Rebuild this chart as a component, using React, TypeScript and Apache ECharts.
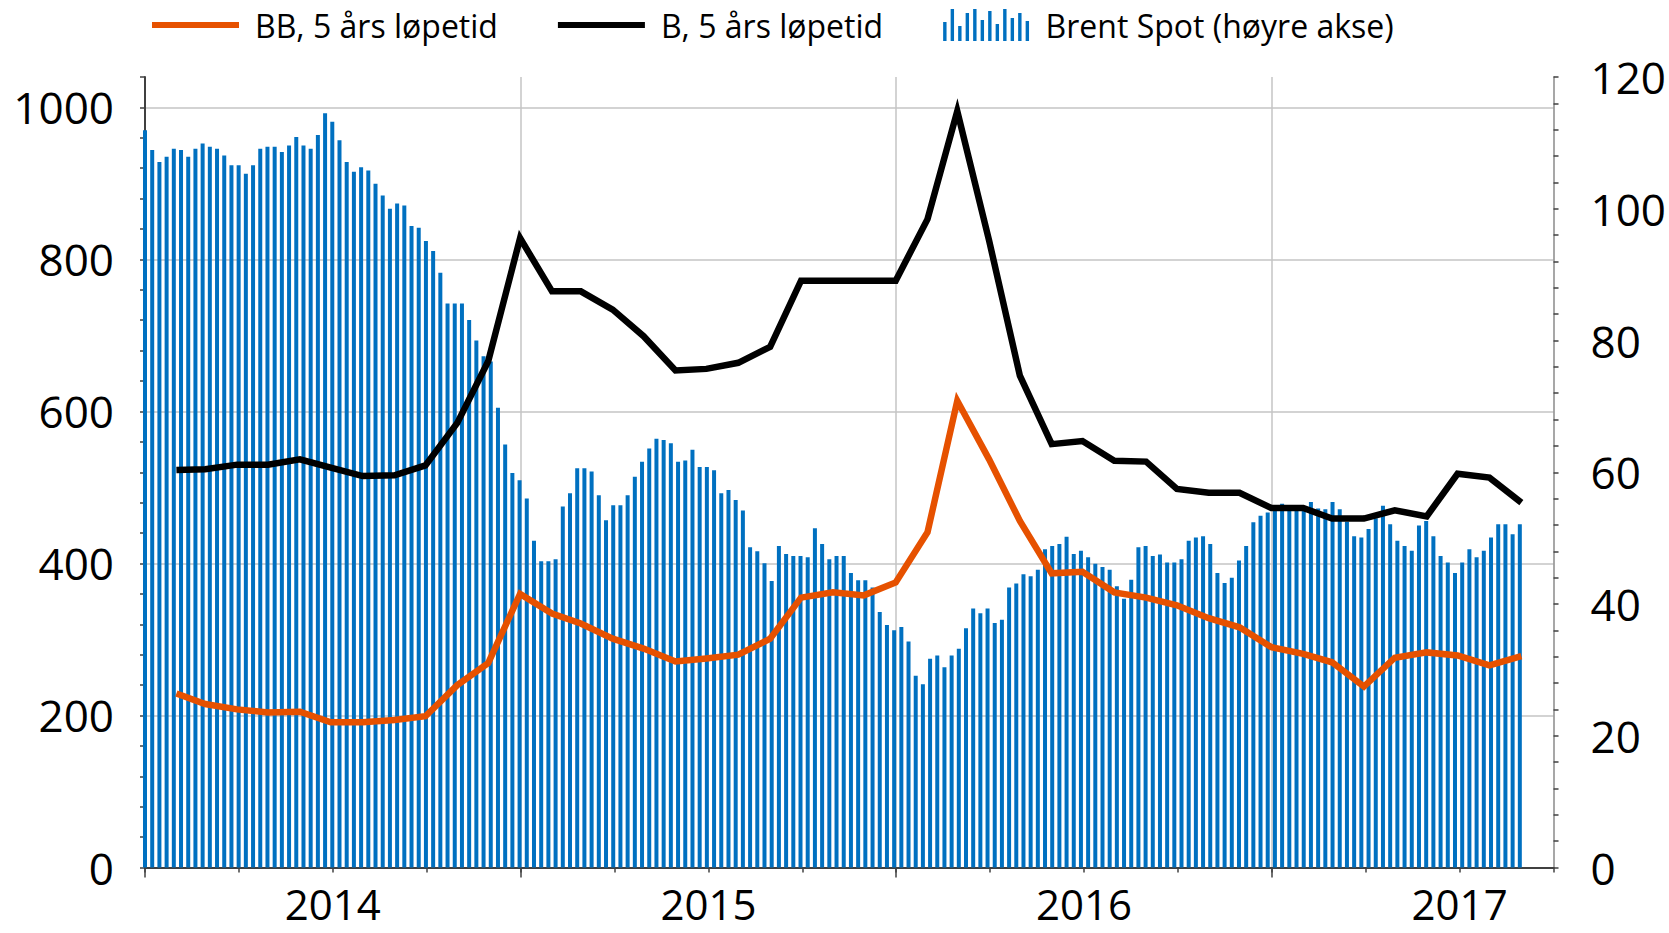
import React, { useEffect, useRef } from "react";
import * as echarts from "echarts";

// Weekly Brent spot (USD per barrel, right axis), first observation in week starting:
const brentStartDate = "2014-01-01";
const brentWeekly = [
  111.9, 108.9, 107.1, 107.9, 109.1, 108.9, 107.9, 109.1, 109.9, 109.4,
  109.1, 108.1, 106.6, 106.6, 105.3, 106.6, 109.1, 109.4, 109.4, 108.6,
  109.6, 110.9, 109.6, 109.1, 111.2, 114.5, 113.2, 110.4, 107.1, 105.6,
  106.3, 105.8, 103.8, 102.0, 100.0, 100.8, 100.5, 97.4, 97.1, 95.1,
  93.6, 90.3, 85.6, 85.6, 85.6, 83.1, 80.0, 77.6, 76.8, 69.8,
  64.2, 59.9, 58.8, 56.0, 49.6, 46.5, 46.5, 46.8, 54.8, 56.8,
  60.6, 60.6, 60.1, 56.5, 52.7, 55.0, 55.0, 56.5, 59.3, 61.6,
  63.6, 65.1, 64.9, 64.4, 61.6, 61.8, 63.4, 60.8, 60.8, 60.3,
  56.8, 57.3, 55.8, 54.2, 48.6, 48.0, 46.2, 43.5, 48.8, 47.6,
  47.3, 47.3, 47.1, 51.5, 49.1, 46.8, 47.3, 47.3, 44.7, 43.6,
  43.6, 42.5, 38.8, 36.8, 36.0, 36.5, 34.3, 29.1, 27.8, 31.7,
  32.2, 30.4, 32.2, 33.2, 36.3, 39.3, 38.6, 39.3, 37.1, 37.6,
  42.5, 43.1, 44.5, 44.2, 45.2, 48.3, 48.8, 49.1, 50.2, 47.6,
  48.1, 47.1, 46.1, 45.6, 45.2, 42.7, 40.8, 43.7, 48.6, 48.8,
  47.3, 47.5, 46.3, 46.3, 46.8, 49.6, 50.1, 50.3, 49.1, 44.7,
  43.2, 44.0, 46.6, 48.8, 52.4, 53.4, 53.9, 54.5, 55.2, 54.7,
  54.7, 54.6, 55.5, 54.5, 54.4, 55.5, 54.4, 52.5, 50.3, 50.1,
  51.4, 53.0, 54.9, 52.1, 49.6, 48.8, 48.1, 51.9, 52.6, 50.3,
  47.3, 46.3, 44.7, 46.3, 48.3, 47.1, 48.1, 50.1, 52.1, 52.1,
  50.6, 52.1,
];

// Monthly spreads (basis points, left axis), end of month
const spreadMonths = [
  "2014-01", "2014-02", "2014-03", "2014-04", "2014-05", "2014-06", "2014-07", "2014-08", "2014-09", "2014-10", "2014-11", "2014-12",
  "2015-01", "2015-02", "2015-03", "2015-04", "2015-05", "2015-06", "2015-07", "2015-08", "2015-09", "2015-10", "2015-11", "2015-12",
  "2016-01", "2016-02", "2016-03", "2016-04", "2016-05", "2016-06", "2016-07", "2016-08", "2016-09", "2016-10", "2016-11", "2016-12",
  "2017-01", "2017-02", "2017-03", "2017-04", "2017-05", "2017-06", "2017-07", "2017-08",
];
const bbSpread = [
  229, 215, 208, 204, 205, 191, 191, 194, 199, 240, 269, 360,
  334, 321, 301, 288, 271, 275, 280, 301, 355, 362, 358, 375,
  441, 614, 537, 456, 387, 389, 362, 355, 345, 328, 316, 290,
  281, 270, 238, 276, 283, 279, 266, 278,
];
const bSpread = [
  523, 524, 530, 530, 537, 526, 515, 516, 529, 585, 666, 828,
  758, 758, 734, 699, 654, 656, 664, 685, 772, 772, 772, 772,
  853, 995, 825, 647, 557, 561, 535, 534, 498, 493, 493, 473,
  473, 459, 459, 470, 462, 518, 513, 480,
];

const seriesNames = ["BB, 5 års løpetid", "B, 5 års løpetid", "Brent Spot (høyre akse)"];
const yearTicks = [2014, 2015, 2016, 2017];

const FONT = "Open Sans";

function yearFrac(t: number): number {
  const d = new Date(t);
  const y = d.getUTCFullYear();
  const s = Date.UTC(y, 0, 1);
  const e = Date.UTC(y + 1, 0, 1);
  return y + (t - s) / (e - s);
}

function monthEnd(label: string): number {
  const [y, m] = label.split("-").map(Number);
  return yearFrac(Date.UTC(y, m, 1) - 12 * 3600 * 1000);
}

export default function App() {
  const ref = useRef<HTMLDivElement>(null);

  useEffect(() => {
    if (!ref.current) return;
    const chart = echarts.init(ref.current, undefined, { renderer: "svg" });
    const [sy, sm, sd] = brentStartDate.split("-").map(Number);
    const start = Date.UTC(sy, sm - 1, sd);
    const week = 7 * 24 * 3600 * 1000;
    const barData = brentWeekly.map((v, i) => [yearFrac(start + i * week), v]);
    const bbData = spreadMonths.map((m, i) => [monthEnd(m), bbSpread[i]]);
    const bData = spreadMonths.map((m, i) => [monthEnd(m), bSpread[i]]);

    const barIcon =
      "path://M0 13h3.4v19h-3.4z M7.5 0h3.4v32h-3.4z M15 17h3.4v15h-3.4z M22.5 4h3.4v28h-3.4z M30 0h3.4v32h-3.4z M37.5 11h3.4v21h-3.4z M45 2h3.4v30h-3.4z M52.5 15h3.4v17h-3.4z M60 0h3.4v32h-3.4z M67.5 9h3.4v23h-3.4z M75 4h3.4v28h-3.4z M82.5 12h3.4v20h-3.4z";
    const lineIcon = "path://M0 0h87v6h-87z";

    const gridColor = "#c4c4c4";
    const axisColor = "#404040";
    const labelSize = 44;

    chart.setOption({
      animation: false,
      textStyle: { fontFamily: FONT },
      legend: {
        left: 152,
        top: 9,
        padding: 0,
        itemWidth: 87,
        itemHeight: 32,
        itemGap: 60,
        textStyle: { fontSize: 32, color: "#000", fontFamily: FONT, padding: [0, 0, 0, 11] },
        data: [
          { name: seriesNames[0], icon: lineIcon },
          { name: seriesNames[1], icon: lineIcon },
          { name: seriesNames[2], icon: barIcon },
        ],
      },
      grid: { left: 145, right: 115, top: 77, bottom: 65.5, containLabel: false },
      xAxis: [
        {
          type: "value",
          min: 2014,
          max: 2017.75,
          interval: 0.25,
          position: "bottom",
          axisLine: { show: true, onZero: false, lineStyle: { color: axisColor, width: 2 } },
          axisTick: { show: true, length: 5, lineStyle: { color: axisColor, width: 1.5 } },
          axisLabel: {
            fontSize: 42,
            color: "#000",
            margin: 15,
            fontFamily: FONT,
            formatter: (v: number) =>
              Math.abs(v - Math.floor(v) - 0.5) < 1e-6 ? String(Math.floor(v)) : "",
          },
          splitLine: { show: false },
        },
        {
          type: "value",
          min: 2014,
          max: 2017.75,
          interval: 1,
          position: "bottom",
          axisLine: { show: false, onZero: false },
          axisTick: { show: true, length: 10, customValues: yearTicks, lineStyle: { color: axisColor, width: 1.5 } },
          axisLabel: { show: false },
          splitLine: { show: true, showMinLine: false, lineStyle: { color: gridColor, width: 1.5 } },
        },
      ],
      yAxis: [
        {
          type: "value",
          position: "left",
          min: 0,
          max: 1040,
          interval: 200,
          axisLine: { show: true, lineStyle: { color: axisColor, width: 2 } },
          axisTick: { show: false },
          axisLabel: {
            fontSize: labelSize,
            color: "#000",
            margin: 31,
            showMaxLabel: false,
            fontFamily: FONT,
            formatter: (v: number) => String(v),
          },
          splitLine: { show: true, showMinLine: false, showMaxLine: false, lineStyle: { color: gridColor, width: 1.5 } },
        },
        {
          type: "value",
          position: "right",
          min: 0,
          max: 120,
          interval: 20,
          axisLine: { show: true, lineStyle: { color: "#8a8a8a", width: 1.5 } },
          axisTick: { show: true, length: 5, lineStyle: { color: axisColor, width: 1.5 } },
          minorTick: { show: true, splitNumber: 5, length: 5, lineStyle: { color: axisColor, width: 1.5 } },
          axisLabel: { fontSize: labelSize, color: "#000", margin: 37, fontFamily: FONT },
          splitLine: { show: false },
        },
        {
          type: "value",
          position: "left",
          min: 0,
          max: 1040,
          interval: 40,
          axisLine: { show: false },
          axisTick: { show: true, length: 5, lineStyle: { color: axisColor, width: 1.5 } },
          axisLabel: { show: false },
          splitLine: { show: false },
        },
      ],
      series: [
        {
          name: seriesNames[2],
          type: "bar",
          xAxisIndex: 0,
          yAxisIndex: 1,
          barWidth: 4,
          color: "#0070C0",
          itemStyle: { color: "#0070C0" },
          data: barData,
        },
        {
          name: seriesNames[0],
          type: "line",
          xAxisIndex: 0,
          yAxisIndex: 0,
          symbol: "none",
          color: "#E65100",
          lineStyle: { width: 6.5, color: "#E65100", join: "miter" },
          emphasis: { disabled: true },
          data: bbData,
        },
        {
          name: seriesNames[1],
          type: "line",
          xAxisIndex: 0,
          yAxisIndex: 0,
          symbol: "none",
          color: "#000000",
          lineStyle: { width: 6.5, color: "#000000", join: "miter" },
          emphasis: { disabled: true },
          data: bData,
        },
      ],
    });
    return () => chart.dispose();
  }, []);

  return (
    <div
      ref={ref}
      style={{ position: "fixed", left: 0, top: 0, width: 1669, height: 933, background: "#fff" }}
    />
  );
}
